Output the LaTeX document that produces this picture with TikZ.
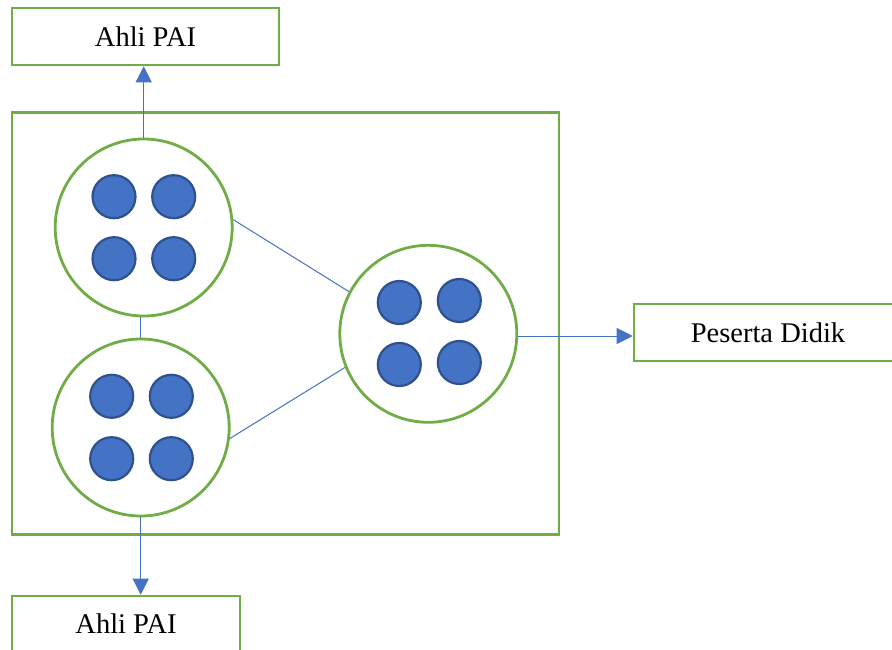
\documentclass[tikz,border=0pt]{standalone}
\usepackage{fontspec}
\setmainfont{Liberation Serif}
\usetikzlibrary{arrows.meta}
\definecolor{grn}{HTML}{70AD47}
\definecolor{blu}{HTML}{4472C4}
\definecolor{dblu}{HTML}{2F528F}
\tikzset{
  gbox/.style={draw=grn, line width=2.6pt, fill=white, inner sep=0pt, font=\fontsize{28.5}{32}\selectfont},
  group/.style={circle, draw=grn, line width=2.8pt, fill=white, minimum size=177pt, inner sep=0pt},
  member/.style={circle, draw=dblu, line width=2.2pt, fill=blu, minimum size=43pt, inner sep=0pt},
  link/.style={draw=blu, line width=1pt},
  flow/.style={link, -{Triangle[length=16pt,width=16pt]}},
}
\begin{document}
\begin{tikzpicture}[x=1pt,y=-1pt]
\useasboundingbox (0,0) rectangle (892,650);
\clip (0,0) rectangle (892,650);
\fill[white] (0,0) rectangle (892,650);
% frame
\node[draw=grn, line width=2.6pt, minimum width=547pt, minimum height=422pt, inner sep=0pt] (frame) at (285.5,323.5) {};
% boxes
\node[gbox, minimum width=267pt, minimum height=57pt] (top) at (145.5,36.5) {Ahli PAI};
\node[gbox, minimum width=268pt, minimum height=57pt] (pd) at (768,332.5) {Peserta Didik};
\node[gbox, minimum width=228pt, minimum height=56pt] (bot) at (126,624) {Ahli PAI};
% groups
\node[group] (c1) at (143.7,227.5) {};
\node[group] (c2) at (140.7,427.5) {};
\node[group] (c3) at (428.3,333.8) {};
% members
\node[member] (a1) at (114,196.7) {};
\node[member] (a2) at (173.7,196.7) {};
\node[member] (a3) at (114,258.7) {};
\node[member] (a4) at (173.7,258.7) {};
\node[member] (b1) at (111.7,396.3) {};
\node[member] (b2) at (171.3,396.3) {};
\node[member] (b3) at (111.7,458.7) {};
\node[member] (b4) at (171.3,458.7) {};
\node[member] (d1) at (399.3,302.5) {};
\node[member] (d2) at (459.3,300.5) {};
\node[member] (d3) at (399.3,364.5) {};
\node[member] (d4) at (459.3,362.5) {};
% connectors
\draw[link] (c2.north) -- (c2.north |- c1.south);
\draw[link] (c1.5.5) -- (c3.152.7);
\draw[link] (c2.-7.8) -- (c3.202.9);
\draw[flow] (c1.north) -- (c1.north |- top.south);
\draw[flow] (c2.south) -- (c2.south |- bot.north);
\draw[flow] ([yshift=-3.5pt]pd.west -| c3.east) -- ([yshift=-3.5pt]pd.west);
\end{tikzpicture}
\end{document}
